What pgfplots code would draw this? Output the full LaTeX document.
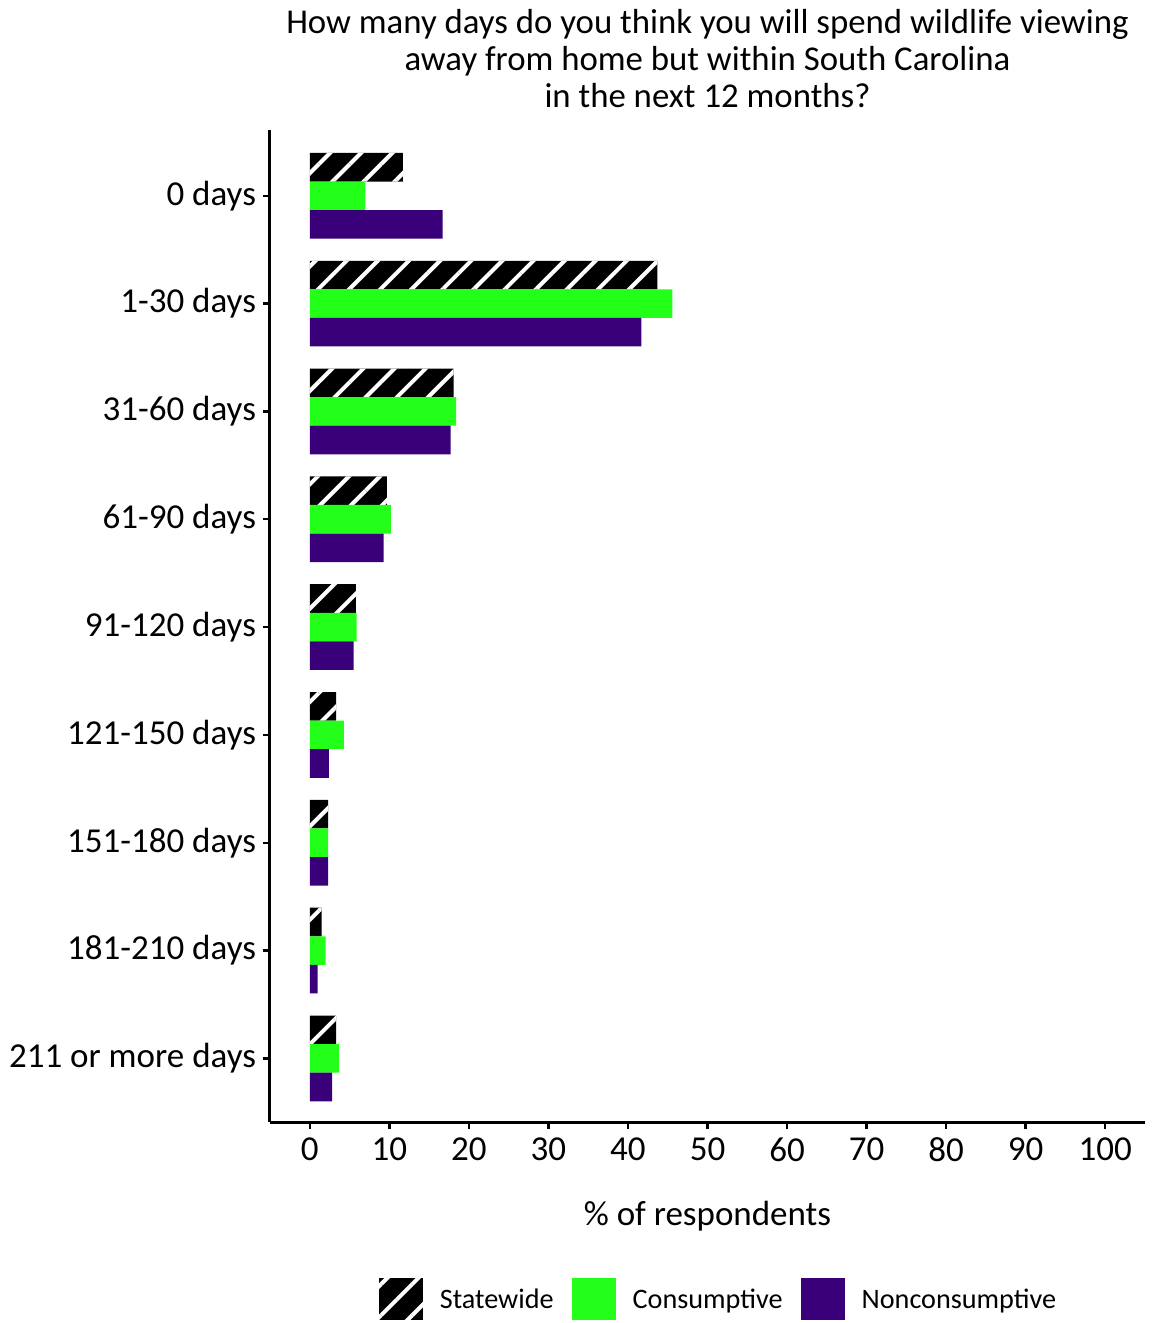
\documentclass[border=0pt]{standalone}
\usepackage{fontspec}
\setmainfont{Carlito}
\usepackage{pgfplots}
\pgfplotsset{compat=1.18}
\usetikzlibrary{patterns.meta}
\definecolor{cgreen}{RGB}{36,255,26}
\definecolor{cpurple}{RGB}{58,0,122}
\begin{document}
\begin{tikzpicture}
\useasboundingbox (-135pt,-100.5pt) rectangle (442pt,561pt);
\begin{axis}[
  at={(0,0)}, anchor=south west,
  scale only axis,
  width=437.5pt, height=496pt,
  xmin=-5, xmax=105,
  ymin=-0.61, ymax=8.59,
  y dir=reverse,
  xtick={0,10,...,100},
  ytick={0,1,...,8},
  yticklabels={0 days,1-30 days,31-60 days,61-90 days,91-120 days,121-150 days,151-180 days,181-210 days,211 or more days},
  axis x line*=bottom, axis y line*=left,
  axis line style={line width=1.5pt, -},
  tick align=outside,
  major tick length=3.5pt,
  tick style={line width=1.2pt, black},
  /pgf/number format/assume math mode=true,
  ticklabel style={font=\fontsize{17.5}{20}\selectfont},
  xticklabel style={yshift=-1pt},
  xlabel={\% of respondents},
  xlabel style={at={(axis description cs:0.5,0)}, anchor=center, yshift=-47pt, font=\fontsize{17.5}{20}\selectfont},
  title={How many days do you think you will spend wildlife viewing\\away from home but within South Carolina\\in the next 12 months?},
  title style={align=center, font=\fontsize{17.4}{18.6}\selectfont, at={(axis description cs:0.5,1)}, anchor=south, yshift=1.5pt},
  xbar, bar width=0.265,
  legend columns=3,
  legend style={draw=none, at={(0.5,0)}, anchor=north, yshift=-76pt, xshift=6pt, font=\fontsize{14.1}{16}\selectfont, column sep=6.5pt, /tikz/every even column/.append style={column sep=7pt}},
  legend image code/.code={\draw[#1, draw=none] (0pt,-10pt) rectangle (22pt,11pt);},
]
\addplot[bar shift=-0.265, fill=black, draw=none, postaction={pattern={Lines[angle=45, distance=11pt, line width=2pt]}, pattern color=white}] coordinates {
(11.7,0) (43.7,1) (18.1,2) (9.7,3) (5.8,4) (3.3,5) (2.3,6) (1.5,7) (3.3,8)};
\addplot[bar shift=0, fill=cgreen, draw=none] coordinates {
(7.0,0) (45.6,1) (18.4,2) (10.2,3) (5.9,4) (4.3,5) (2.3,6) (2.0,7) (3.7,8)};
\addplot[bar shift=0.265, fill=cpurple, draw=none] coordinates {
(16.7,0) (41.7,1) (17.7,2) (9.3,3) (5.5,4) (2.4,5) (2.3,6) (1.0,7) (2.8,8)};
\legend{Statewide, Consumptive, Nonconsumptive}
\end{axis}
\end{tikzpicture}
\end{document}
